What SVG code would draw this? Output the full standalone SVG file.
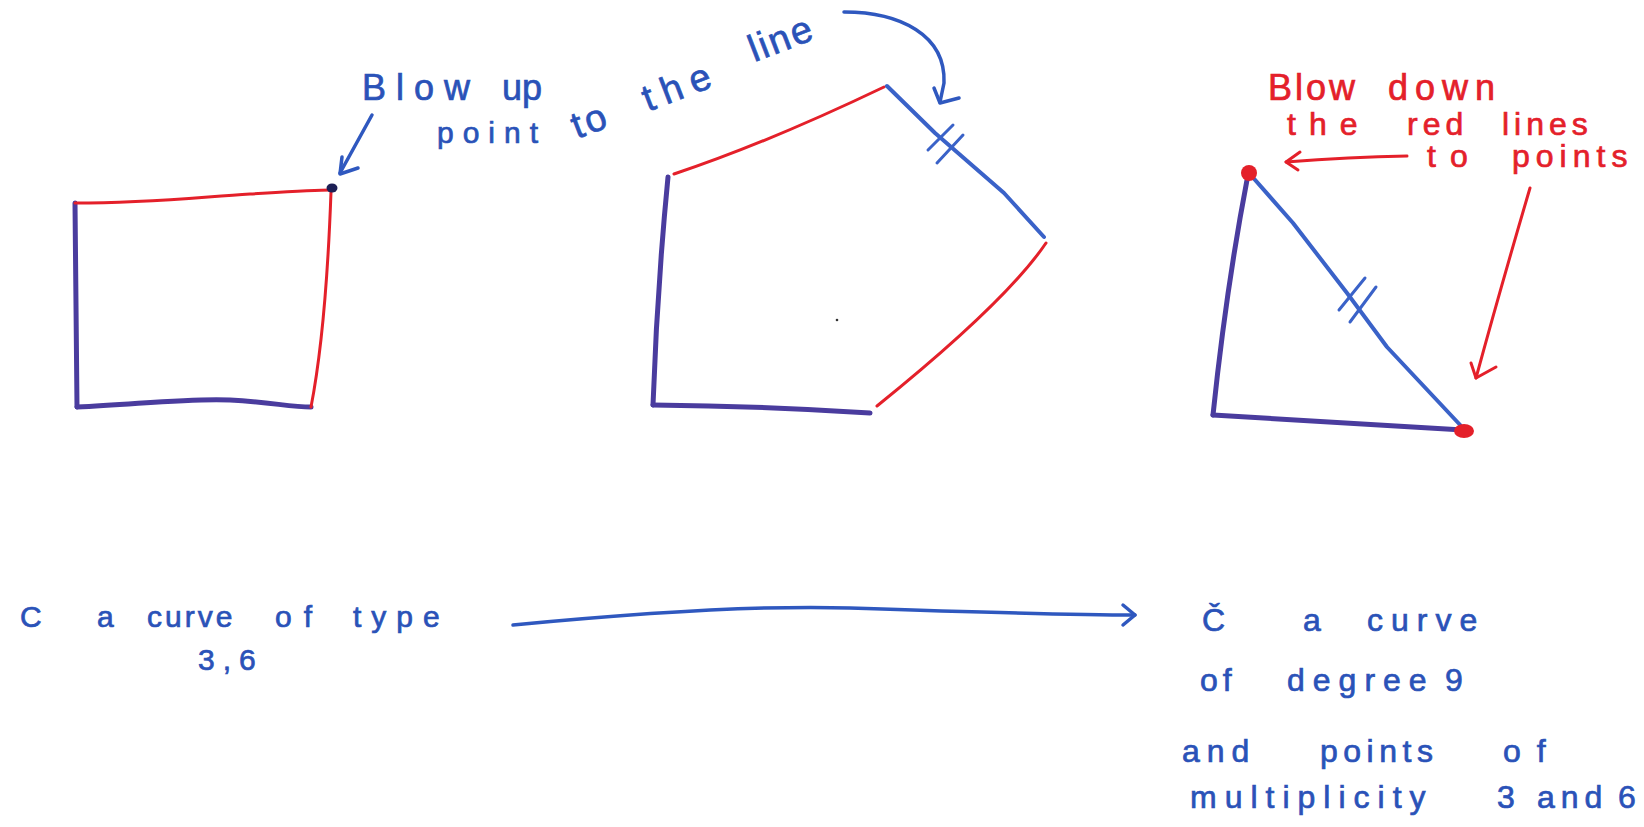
<svg xmlns="http://www.w3.org/2000/svg" width="1644" height="827" viewBox="0 0 1644 827">
<style>
  .purple{fill:none;stroke:#4a3c9e;stroke-width:5;stroke-linecap:round;stroke-linejoin:round}
  .red{fill:none;stroke:#e4202a;stroke-width:3;stroke-linecap:round;stroke-linejoin:round}
  .blue{fill:none;stroke:#3a62c8;stroke-width:4;stroke-linecap:round;stroke-linejoin:round}
  .tick{fill:none;stroke:#3a62c8;stroke-width:3;stroke-linecap:round}
  .bconn{fill:none;stroke:#2f58bf;stroke-width:3.5;stroke-linecap:round;stroke-linejoin:round}
  .rconn{fill:none;stroke:#e4202a;stroke-width:3;stroke-linecap:round;stroke-linejoin:round}
  .bt{font-family:"Liberation Sans",Arial,sans-serif;fill:#2a52b8;stroke:#2a52b8;stroke-width:0.7}
  .rt{font-family:"Liberation Sans",Arial,sans-serif;fill:#e4202a;stroke:#e4202a;stroke-width:0.7}
</style>
<rect width="1644" height="827" fill="#ffffff"/>

<g id="square">
  <path class="purple" d="M75,203 L77,407"/>
  <path class="purple" d="M77,407 C140,404 190,398 230,400 S290,407 311,407"/>
  <path class="red" d="M75,203 C150,203 200,197 250,194 S315,190 331,190"/>
  <path class="red" d="M331,192 Q326,330 311,407"/>
  <ellipse cx="332" cy="188" rx="5.5" ry="4.5" fill="#1c1f55"/>
</g>

<g id="pentagon">
  <path class="purple" d="M668,177 Q657,290 653,405"/>
  <path class="purple" d="M653,405 Q760,406 870,413"/>
  <path class="red" d="M674,174 Q767,143 884,87"/>
  <path class="blue" d="M887,86 L935,133 L1004,193 L1044,237"/>
  <path class="tick" d="M928,150 L953,125 M937,163 L963,135"/>
  <path class="red" d="M1046,243 Q1006,302 877,406"/>
  <circle cx="837" cy="320" r="1.3" fill="#333"/>
</g>

<g id="triangle">
  <path class="purple" d="M1247,180 Q1226,290 1213,415"/>
  <path class="purple" d="M1213,415 L1463,430"/>
  <path class="blue" d="M1249,173 L1293,223 L1347,293 L1387,347 L1463,428"/>
  <path class="tick" d="M1339,310 L1365,278 M1350,322 L1376,287"/>
  <circle cx="1249" cy="173" r="8" fill="#e4202a"/>
  <ellipse cx="1464" cy="431" rx="10" ry="7" fill="#e4202a"/>
</g>

<g id="connectors">
  <path class="bconn" d="M372,115 L340,173"/>
  <path class="bconn" d="M342,157 L340,174 L358,168"/>
  <path class="bconn" d="M844,12 C900,12 946,35 944,83 L940,102"/>
  <path class="bconn" d="M934,88 L940,103 L959,98"/>
  <path class="rconn" d="M1407,156 Q1350,157 1286,162"/>
  <path class="rconn" d="M1300,152 L1286,162 L1298,170"/>
  <path class="rconn" d="M1530,188 Q1500,290 1476,378"/>
  <path class="rconn" d="M1471,363 L1476,378 L1496,367"/>
  <path class="bconn" d="M513,625 C650,612 760,605 850,608 S1060,615 1135,615"/>
  <path class="bconn" d="M1123,605 L1135,615 L1123,625"/>
</g>

<g id="label-blow-up">
  <text class="bt" font-size="36" y="100"><tspan x="362" style="letter-spacing:10px">Blow</tspan><tspan x="502">up</tspan></text>
  <text class="bt" font-size="30" x="437" y="143" style="letter-spacing:9px">point</text>
  <text class="bt" font-size="38" transform="translate(577,139) rotate(-21)"><tspan x="0" style="letter-spacing:3px">to</tspan><tspan x="76" style="letter-spacing:9px">the</tspan><tspan x="193" dy="-8" style="letter-spacing:2px">line</tspan></text>
</g>

<g id="label-blow-down">
  <text class="rt" font-size="36" y="100"><tspan x="1268" style="letter-spacing:3px">Blow</tspan><tspan x="1388" style="letter-spacing:7px">down</tspan></text>
  <text class="rt" font-size="32" y="135"><tspan x="1287" style="letter-spacing:13px">the</tspan><tspan x="1407" style="letter-spacing:5px">red</tspan><tspan x="1502" style="letter-spacing:5px">lines</tspan></text>
  <text class="rt" font-size="32" y="167"><tspan x="1427" style="letter-spacing:14px">to</tspan><tspan x="1512" style="letter-spacing:6px">points</tspan></text>
</g>

<g id="label-source">
  <text class="bt" font-size="30" y="627"><tspan x="20">C</tspan><tspan x="97">a</tspan><tspan x="147" style="letter-spacing:3px">curve</tspan><tspan x="275" style="letter-spacing:12px">of</tspan><tspan x="353" style="letter-spacing:10px">type</tspan></text>
  <text class="bt" font-size="30" x="198" y="670" style="letter-spacing:8px">3,6</text>
</g>

<g id="label-target">
  <text class="bt" font-size="32" y="631"><tspan x="1202">Č</tspan><tspan x="1303">a</tspan><tspan x="1367" style="letter-spacing:8px">curve</tspan></text>
  <text class="bt" font-size="32" y="691"><tspan x="1200" style="letter-spacing:5px">of</tspan><tspan x="1287" style="letter-spacing:8px">degree</tspan><tspan x="1445">9</tspan></text>
  <text class="bt" font-size="32" y="762"><tspan x="1182" style="letter-spacing:7px">and</tspan><tspan x="1320" style="letter-spacing:5.5px">points</tspan><tspan x="1503" style="letter-spacing:16px">of</tspan></text>
  <text class="bt" font-size="32" y="808"><tspan x="1190" style="letter-spacing:8px">multiplicity</tspan><tspan x="1497">3</tspan><tspan x="1537" style="letter-spacing:6px">and</tspan><tspan x="1618">6</tspan></text>
</g>
</svg>
